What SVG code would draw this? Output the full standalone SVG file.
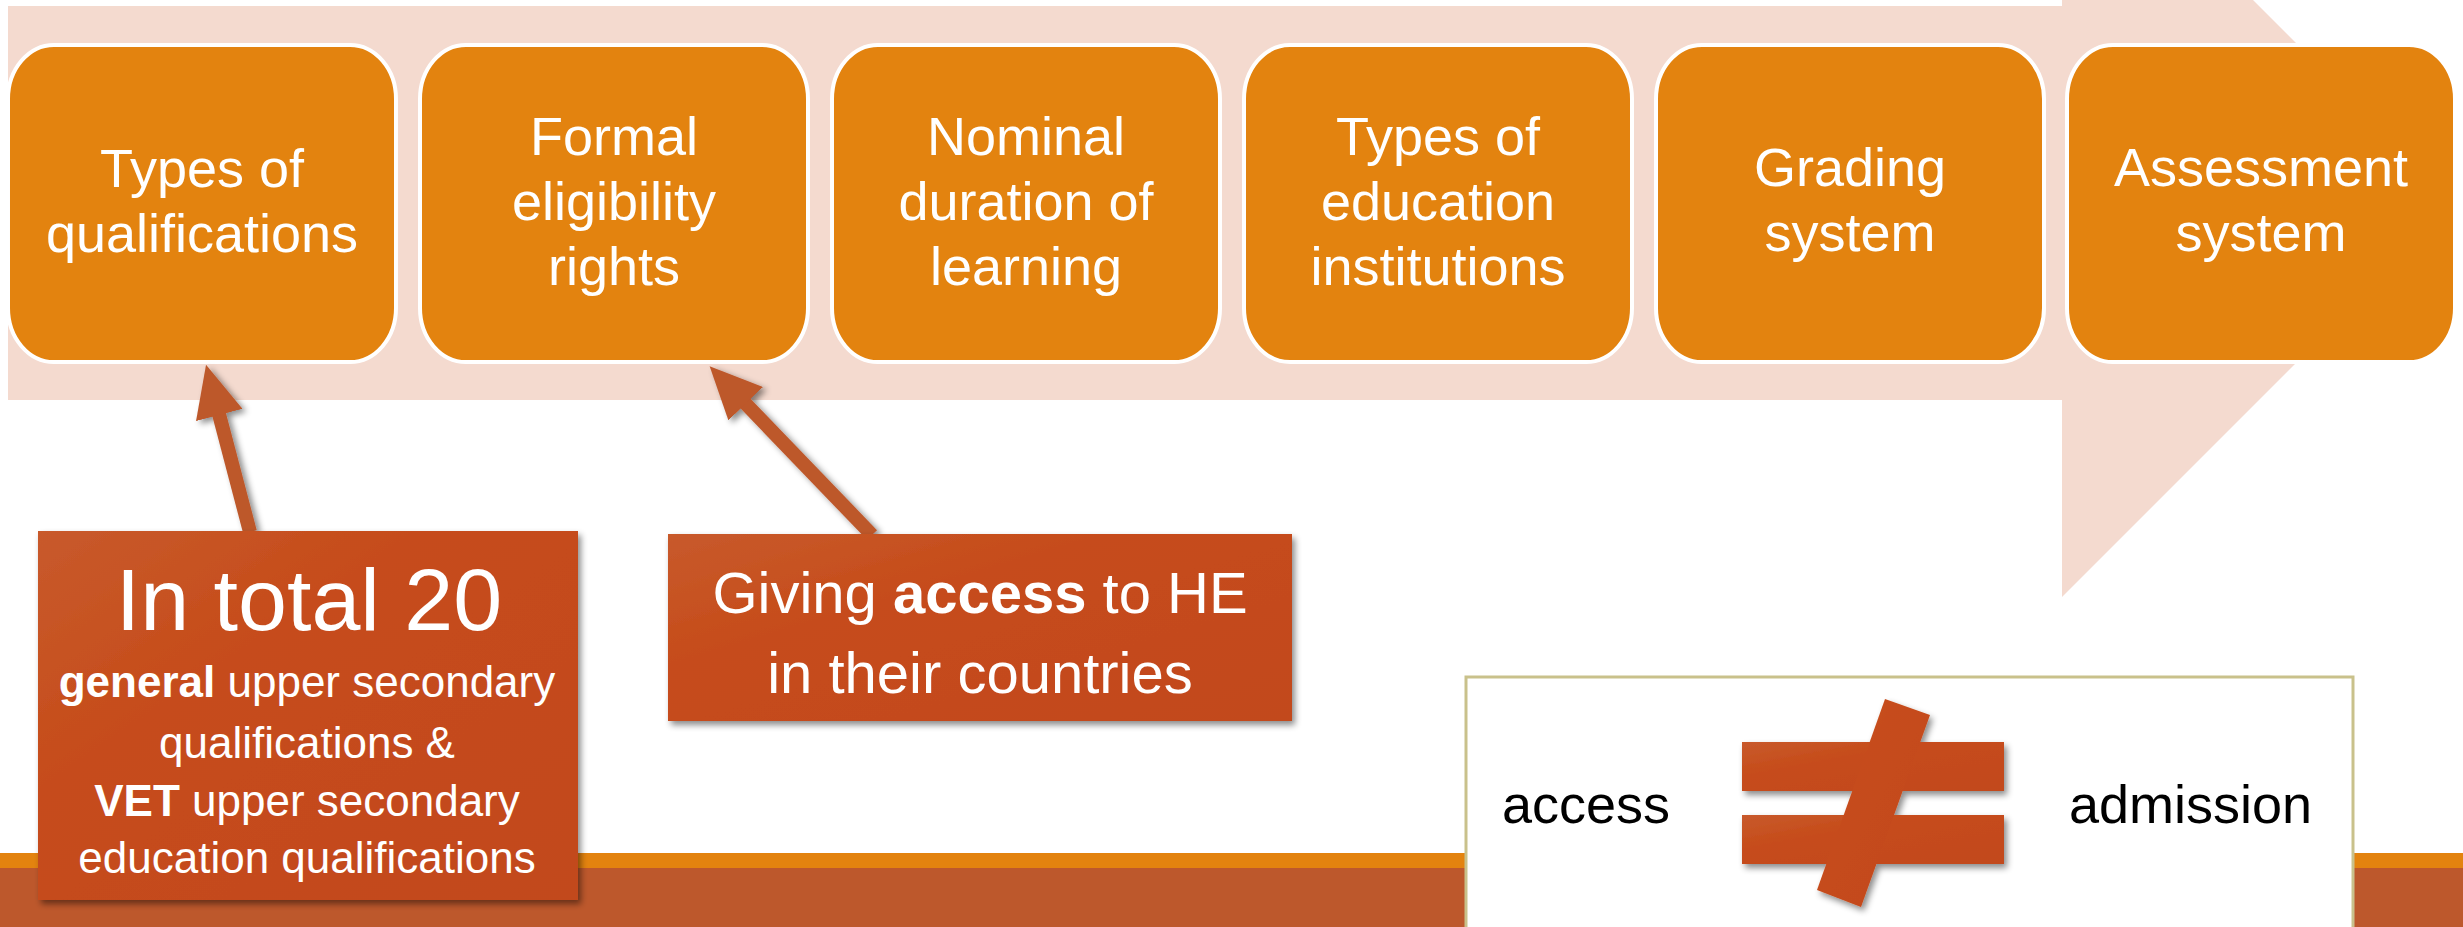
<svg xmlns="http://www.w3.org/2000/svg" width="2463" height="927" viewBox="0 0 2463 927">
  <defs>
    <style>
      .stage rect { fill: #E3830F; stroke: #FFFFFF; stroke-width: 4; }
      .stage text { fill: #FFFFFF; font-family: "Liberation Sans", Arial, sans-serif; font-size: 54px; text-anchor: middle; }
      .note rect { fill: url(#noteFill); filter: url(#shadow); }
      .note text { fill: #FFFFFF; font-family: "Liberation Sans", Arial, sans-serif; text-anchor: middle; }
      .conn line { stroke: #BD582C; stroke-width: 14; }
      .label { fill: #000000; font-family: "Liberation Sans", Arial, sans-serif; font-size: 54px; }
      .b { font-weight: bold; }
    </style>
    <linearGradient id="noteFill" x1="0" y1="0" x2="1" y2="1">
      <stop offset="0" stop-color="#C85A2C"/>
      <stop offset="0.35" stop-color="#C64C1A"/>
      <stop offset="1" stop-color="#C2481A"/>
    </linearGradient>
    <filter id="shadow" x="-10%" y="-10%" width="125%" height="125%">
      <feDropShadow dx="3" dy="4" stdDeviation="3" flood-color="#000000" flood-opacity="0.45"/>
    </filter>
    <!-- page-wide region so marker heads are not clipped -->
    <filter id="connShadow" filterUnits="userSpaceOnUse" x="0" y="0" width="2463" height="927">
      <feDropShadow dx="4" dy="3" stdDeviation="3" flood-color="#000000" flood-opacity="0.45"/>
    </filter>
    <marker id="head" markerUnits="userSpaceOnUse" markerWidth="52" markerHeight="48" viewBox="0 0 52 48" refX="1" refY="24" orient="auto">
      <path d="M0,0 L52,24 L0,48 z" fill="#BD582C"/>
    </marker>
  </defs>

  <!-- background -->
  <rect x="0" y="0" width="2463" height="927" fill="#FFFFFF"/>

  <!-- bottom bands -->
  <rect x="0" y="853" width="2463" height="15" fill="#E3830F"/>
  <rect x="0" y="868" width="2463" height="59" fill="#BD582C"/>

  <!-- process arrow behind the stages -->
  <polygon id="process-arrow" points="8,6 2062,6 2062,-191 2456,203 2062,597 2062,400 8,400" fill="#F4DACF"/>

  <!-- stages -->
  <g id="stage-1" class="stage">
    <rect x="8" y="45" width="388" height="317" rx="46" ry="54"/>
    <text x="202" y="187">Types of</text>
    <text x="202" y="252">qualifications</text>
  </g>
  <g id="stage-2" class="stage">
    <rect x="420" y="45" width="388" height="317" rx="46" ry="54"/>
    <text x="614" y="155">Formal</text>
    <text x="614" y="220">eligibility</text>
    <text x="614" y="285">rights</text>
  </g>
  <g id="stage-3" class="stage">
    <rect x="832" y="45" width="388" height="317" rx="46" ry="54"/>
    <text x="1026" y="155">Nominal</text>
    <text x="1026" y="220">duration of</text>
    <text x="1026" y="285">learning</text>
  </g>
  <g id="stage-4" class="stage">
    <rect x="1244" y="45" width="388" height="317" rx="46" ry="54"/>
    <text x="1438" y="155">Types of</text>
    <text x="1438" y="220">education</text>
    <text x="1438" y="285">institutions</text>
  </g>
  <g id="stage-5" class="stage">
    <rect x="1656" y="45" width="388" height="317" rx="46" ry="54"/>
    <text x="1850" y="186">Grading</text>
    <text x="1850" y="251">system</text>
  </g>
  <g id="stage-6" class="stage">
    <rect x="2067" y="45" width="388" height="317" rx="46" ry="54"/>
    <text x="2261" y="186">Assessment</text>
    <text x="2261" y="251">system</text>
  </g>

  <!-- connectors from the notes to the stages -->
  <g id="connectors" class="conn" filter="url(#connShadow)">
    <line x1="250" y1="532" x2="219" y2="414" marker-end="url(#head)"/>
    <line x1="872" y1="535" x2="745" y2="403" marker-end="url(#head)"/>
  </g>

  <!-- notes -->
  <g id="note-total" class="note">
    <rect x="38" y="531" width="540" height="369"/>
    <text x="309" y="630" font-size="88">In total 20</text>
    <text x="307" y="697" font-size="44"><tspan class="b">general</tspan> upper secondary</text>
    <text x="307" y="758" font-size="44">qualifications &amp;</text>
    <text x="307" y="816" font-size="44"><tspan class="b">VET</tspan> upper secondary</text>
    <text x="307" y="873" font-size="44">education qualifications</text>
  </g>
  <g id="note-access" class="note">
    <rect x="668" y="534" width="624" height="187"/>
    <text x="980" y="613" font-size="58">Giving <tspan class="b">access</tspan> to HE</text>
    <text x="980" y="693" font-size="58">in their countries</text>
  </g>

  <!-- access is not admission -->
  <g id="not-equal-panel">
    <rect x="1466" y="677" width="887" height="270" fill="#FFFFFF" stroke="#C9C18B" stroke-width="3"/>
    <text class="label" x="1502" y="823">access</text>
    <text class="label" x="2069" y="823">admission</text>
    <g filter="url(#shadow)" fill="url(#noteFill)">
      <rect x="1742" y="742" width="262" height="49"/>
      <rect x="1742" y="815" width="262" height="49"/>
      <polygon points="1885,699 1930,715 1861,907 1817,890"/>
    </g>
  </g>
</svg>
